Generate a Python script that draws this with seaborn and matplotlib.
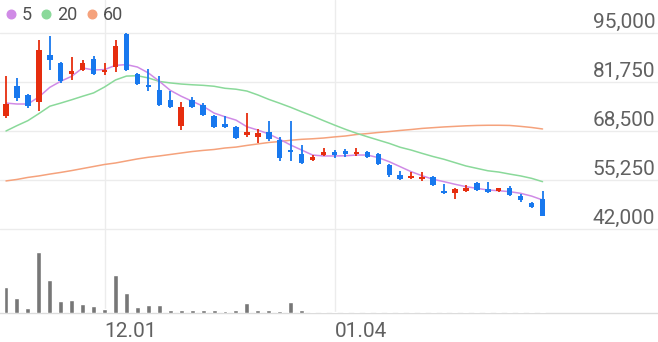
import numpy as np
import pandas as pd
import matplotlib
matplotlib.use("Agg")
import matplotlib.pyplot as plt
import matplotlib.transforms as mtransforms
from matplotlib.lines import Line2D
import seaborn as sns

# ---------------- data ----------------
opens = [72550, 80650, 78250, 76350, 89050, 86900, 83900, 85000, 87950, 84450,
         85800, 94750, 83900, 80950, 79600, 76900, 69850, 76900, 75550, 72550,
         70400, 69600, 67400, 66900, 68250, 66050, 63100, 62300, 60650, 62000,
         62800, 63100, 62300, 62800, 62300, 59300, 56600, 55800, 55500, 56050,
         52300, 51750, 52300, 54450, 52800, 52300, 53100, 50900, 49050, 50100]
highs = [83350, 82830, 78500, 93100, 94200, 87150, 88500, 87700, 88800, 86900,
         93100, 95000, 84200, 85250, 83350, 79300, 76350, 77700, 76050, 72800,
         72550, 69850, 73350, 69050, 71200, 66900, 71200, 64700, 62000, 63900,
         63350, 63650, 63900, 63100, 62550, 59600, 57700, 57400, 57400, 56350,
         54150, 53100, 53900, 54700, 54700, 53100, 53650, 51450, 49300, 52300]
lows = [72000, 76600, 74700, 73900, 85000, 81500, 82300, 84700, 83650, 83650,
        84450, 84700, 80950, 79300, 75250, 74700, 68750, 74700, 72550, 69300,
        69300, 66350, 66900, 65250, 65800, 60400, 60400, 59700, 60400, 61750,
        61200, 61450, 61750, 61200, 59300, 56050, 55250, 55500, 55000, 53650,
        51450, 50100, 52000, 52300, 51750, 52000, 50900, 49300, 47700, 45500]
closes = [75800, 77400, 75250, 90400, 87700, 82000, 84700, 86900, 83900, 85000,
          91500, 85000, 81200, 80400, 75550, 75000, 75000, 75000, 72800, 69600,
          69600, 66600, 68250, 67950, 66350, 61200, 62800, 59850, 61450, 62800,
          62000, 62300, 62800, 61450, 59600, 56600, 55500, 56350, 56050, 53900,
          51750, 52800, 53100, 52550, 52000, 53100, 51200, 49850, 47950, 45500]
volumes = [257, 147, 47, 610, 330, 123, 133, 90, 67, 40,
           383, 200, 63, 80, 80, 33, 33, 30, 27, 27,
           17, 27, 103, 27, 33, 23, 113, 33, 13, 13,
           10, 10, 10, 10, 10, 14, 10, 10, 10, 10,
           10, 10, 10, 10, 14, 10, 10, 10, 10, 14]
ma5 = [76050, 75800, 75800, 77700, 80300, 81950, 83300, 85550, 85000, 85100,
       86250, 86450, 85800, 84200, 81950, 79500, 77900, 76550, 75200, 73350,
       72350, 71450, 69650, 68750, 67700, 66250, 64700, 63350, 62000, 61750,
       61750, 61800, 62000, 62000, 61300, 60200, 58850, 57500, 56400, 55450,
       54800, 54100, 53450, 53000, 52550, 52350, 52100, 51650, 50900, 49850]
ma20 = [68500, 69950, 71300, 73200, 75200, 76050, 76950, 77900, 78800, 80400,
        82300, 83350, 83450, 82850, 81900, 81500, 81200, 81000, 80850, 80600,
        80050, 79800, 79300, 78250, 77050, 76000, 74900, 73700, 72550, 71300,
        70100, 68950, 67900, 66950, 66050, 65150, 64100, 63350, 62450, 61600,
        60850, 59950, 59050, 58400, 57750, 57400, 56850, 56350, 55700, 54800]
ma60 = [55000, 55400, 55950, 56350, 56850, 57300, 57800, 58350, 58900, 59450,
        59850, 60400, 60950, 61400, 61750, 62150, 62550, 62950, 63250, 63500,
        63900, 64150, 64600, 65000, 65400, 65650, 66000, 66250, 66400, 66600,
        66900, 67150, 67550, 67800, 68100, 68350, 68650, 68900, 69200, 69400,
        69600, 69750, 69900, 70000, 70050, 70050, 70000, 69750, 69450, 69050]
price_ticks = [95000, 81750, 68500, 55250, 42000]
date_tick_index = [9, 30]
date_tick_labels = ["12.01", "01.04"]
legend_labels = ["5", "20", "60"]

# ---------------- style ----------------
RED = "#e62d0e"
BLUE = "#1878ee"
C5 = "#d08be6"
C20 = "#8ad99a"
C60 = "#f5a27c"
GRID = "#ececec"
TXT = "#616161"

sns.set_theme(style="white")
plt.rcParams["font.family"] = ["Roboto", "DejaVu Sans"]

W, H = 658, 342
fig = plt.figure(figsize=(W / 100, H / 100), dpi=100)
ax = fig.add_axes([0, (H - 245) / H, 1, 245 / H])
axv = fig.add_axes([0, (H - 313) / H, 1, 68 / H])

n = len(closes)
idx = np.arange(n)
df = pd.DataFrame({"i": idx, "open": opens, "high": highs, "low": lows,
                   "close": closes, "vol": volumes,
                   "ma5": ma5, "ma20": ma20, "ma60": ma60})

# x scale: 10.95 px per candle, first candle at x=6
step = 10.95
xlim = (-6 / step, (W - 6) / step)

# price scale: 95000 at y=33px, 42000 at y=229px
ppx = (price_ticks[0] - price_ticks[-1]) / (229 - 33)
ax.set_ylim(price_ticks[-1] - (245 - 229) * ppx, price_ticks[0] + 33 * ppx)

# moving averages
sns.lineplot(data=df, x="i", y="ma60", ax=ax, color=C60, lw=1.1, zorder=2)
sns.lineplot(data=df, x="i", y="ma20", ax=ax, color=C20, lw=1.1, zorder=2)
sns.lineplot(data=df, x="i", y="ma5", ax=ax, color=C5, lw=1.1, zorder=2)

# candles
up = df["close"] >= df["open"]
cols = np.where(up, RED, BLUE)
body_lo = np.minimum(df["open"], df["close"])
body_h = np.maximum(np.abs(df["close"] - df["open"]), 1.6 * ppx)
ax.vlines(df["i"], df["low"], df["high"], colors=cols, lw=1.3, zorder=3)
ax.bar(df["i"], body_h, bottom=body_lo, width=0.5, color=cols, zorder=4, linewidth=0)

ax.set_xlim(*xlim)
ax.set_yticks(price_ticks)
ax.set_xticks(date_tick_index)
ax.grid(True, color=GRID, lw=1)
ax.set_axisbelow(True)
ax.tick_params(length=0, labelleft=False, labelbottom=False)
ax.set_xlabel("")
ax.set_ylabel("")
for s in ax.spines.values():
    s.set_visible(False)

# price labels, right aligned, sitting just above their grid lines
trans = mtransforms.blended_transform_factory(ax.transAxes, ax.transData) + \
    mtransforms.ScaledTranslation(0, 5 / 100, fig.dpi_scale_trans)
for v in price_ticks:
    ax.text(655 / W, v, f"{v:,}", transform=trans, ha="right", va="baseline",
            fontsize=15, color=TXT)

# legend
handles = [Line2D([], [], marker="o", ls="", color=c, markersize=6.2)
           for c in (C5, C20, C60)]
leg = ax.legend(handles, legend_labels, loc="upper left", bbox_to_anchor=(0, 1),
                ncol=3, frameon=False, fontsize=13, handlelength=0.5,
                handletextpad=0.35, columnspacing=0.55, borderaxespad=0,
                borderpad=0.35, labelcolor="#505050")

# volume
sns.barplot(data=df, x="i", y="vol", ax=axv, native_scale=True, color="#777777",
            saturation=1, width=0.45, errorbar=None, zorder=3)
axv.set_xlim(*xlim)
axv.set_ylim(0, 680)
axv.set_yticks([])
axv.set_xticks(date_tick_index, labels=date_tick_labels)
axv.grid(True, axis="x", color=GRID, lw=1)
axv.set_axisbelow(True)
axv.tick_params(axis="x", length=0, pad=6.5, labelsize=15, labelcolor=TXT)
for lab in axv.get_xticklabels():
    lab.set_ha("left")
axv.set_xlabel("")
axv.set_ylabel("")
for k, s in axv.spines.items():
    s.set_visible(k == "bottom")
axv.spines["bottom"].set_color("#dcdcdc")
axv.spines["bottom"].set_linewidth(1)
axv.patch.set_alpha(0)

fig.savefig("out.png", dpi=100)
